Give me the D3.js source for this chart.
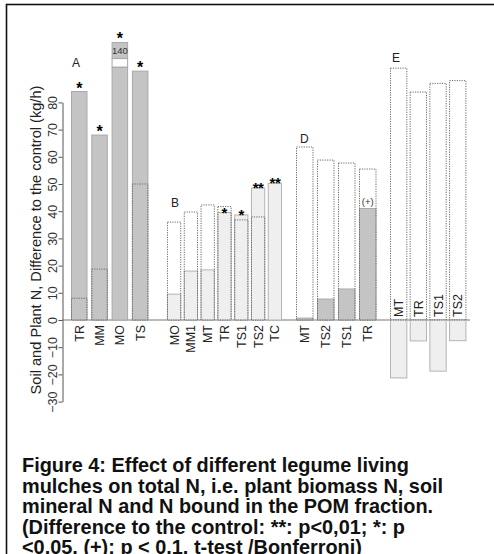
<!DOCTYPE html>
<html>
<head>
<meta charset="utf-8">
<script src="https://cdn.jsdelivr.net/npm/d3@7"></script>
<style>
  html, body { margin: 0; padding: 0; background: #fff; }
  svg { display: block; font-family: "Liberation Sans", Arial, Helvetica, sans-serif; }
</style>
</head>
<body>
<svg id="chart" width="494" height="554"></svg>
<script>
// Group A: total N (solid bar) with plant biomass N share (dotted line)
const catsA = ["TR", "MM", "MO", "TS"];
const solidA = [84, 68, 140, 91.5];
const dottedA = [8, 18.7, null, 50];
const sigA = ["*", "*", "*", "*"];

// Group B
const catsB = ["MO", "MM1", "MT", "TR", "TS1", "TS2", "TC"];
const solidB = [9.5, 18, 18.4, 39.5, 38.6, 48.5, 50.2];
const dottedB = [36, 39.7, 42.3, 41.7, 36.8, 37.9, null];
const sigB = ["", "", "", "*", "*", "**", "**"];

// Group D
const catsD = ["MT", "TS2", "TS1", "TR"];
const solidD = [0.7, 7.7, 11.4, 41];
const dottedD = [63.6, 58.8, 57.7, 55.5];
const sigD = ["", "", "", "(+)"];

// Group E
const catsE = ["MT", "TR", "TS1", "TS2"];
const solidE = [-21.3, -7.7, -18.8, -7.6];
const dottedE = [92.6, 83.8, 87, 88];
const sigE = ["", "", "", ""];

const yTicks = [-30, -20, -10, 0, 10, 20, 30, 40, 50, 60, 70, 80];
const yTitle = "Soil and Plant N, Difference to the control (kg/h)";
const captionLines = [
  "Figure 4: Effect of different legume living",
  "mulches on total N, i.e. plant biomass N, soil",
  "mineral N and N bound in the POM fraction.",
  "(Difference to the control: **: p<0,01; *: p",
  "<0,05, (+): p < 0.1, t-test /Bonferroni)"
];

// Values above this are drawn with a broken top and their value written in a box
const breakValue = 93;

const GRAY = "#c4c4c4", GRAY_EDGE = "#a9a9a9";
const LIGHT = "#efefef", LIGHT_EDGE = "#b4b4b4";
const DOT = "#6a6a6a";

const svg = d3.select("#chart");

// outer frame
svg.append("rect").attr("x", 6.5).attr("y", 4.5).attr("width", 500).attr("height", 560)
  .attr("fill", "#fff").attr("stroke", "#111").attr("stroke-width", 1.6);

const y = d3.scaleLinear().domain([-30, 80]).range([401.6, 102.4]);

const groups = [
  { name: "A", cats: catsA, solid: solidA, dotted: dottedA, sig: sigA, range: [69.1, 150.3], pad: 0.187,
    fill: GRAY, edge: GRAY_EDGE, labelPos: [72, 67], labelsInside: false, sigSize: 16, sigDy: 2 },
  { name: "B", cats: catsB, solid: solidB, dotted: dottedB, sig: sigB, range: [165.7, 283.3], pad: 0.15,
    fill: LIGHT, edge: LIGHT_EDGE, labelPos: [171, 207], labelsInside: false, sigSize: 15, sigDy: 5 },
  { name: "D", cats: catsD, solid: solidD, dotted: dottedD, sig: sigD, range: [294.25, 378.25], pad: 0.167,
    fill: GRAY, edge: GRAY_EDGE, labelPos: [300, 143], labelsInside: false, sigSize: 14, sigDy: 5 },
  { name: "E", cats: catsE, solid: solidE, dotted: dottedE, sig: sigE, range: [388.8, 467.6], pad: 0.12,
    fill: LIGHT, edge: LIGHT_EDGE, labelPos: [392, 62], labelsInside: true, sigSize: 14, sigDy: 5 }
];

// zero line
svg.append("line").attr("x1", 62.5).attr("x2", 470).attr("y1", y(0)).attr("y2", y(0))
  .attr("stroke", "#777").attr("stroke-width", 1);

groups.forEach(g => {
  const x = d3.scaleBand().domain(g.cats).range(g.range).paddingInner(g.pad).paddingOuter(g.pad / 2);
  const bw = x.bandwidth();
  const rows = g.cats.map((c, i) => ({ c, s: g.solid[i], d: g.dotted[i], sig: g.sig[i] }));
  const grp = svg.append("g");

  rows.forEach(r => {
    const x0 = x(r.c);
    const shown = Math.min(r.s, breakValue);
    // solid bar
    grp.append("rect")
      .attr("x", x0 + 0.5).attr("width", bw - 1)
      .attr("y", Math.min(y(shown), y(0)))
      .attr("height", Math.abs(y(shown) - y(0)))
      .attr("fill", g.fill).attr("stroke", g.edge).attr("stroke-width", 1);

    let topY = y(shown);
    if (r.s > breakValue) {
      // axis break: white gap, then a box carrying the value
      const gapTop = topY - 8.5;
      grp.append("rect").attr("x", x0 + 0.5).attr("width", bw - 1)
        .attr("y", gapTop).attr("height", 8.5)
        .attr("fill", "#fff").attr("stroke", g.edge);
      const boxTop = gapTop - 16;
      grp.append("rect").attr("x", x0 + 0.5).attr("width", bw - 1)
        .attr("y", boxTop).attr("height", 16)
        .attr("fill", g.fill).attr("stroke", g.edge);
      grp.append("text").attr("x", x0 + bw / 2).attr("y", boxTop + 11.5)
        .attr("text-anchor", "middle").attr("font-size", 9.5).attr("fill", "#333")
        .text(r.s);
      topY = boxTop - 1;
    }

    // dotted bar outline
    if (r.d !== null) {
      grp.append("rect")
        .attr("x", x0 + 0.5).attr("width", bw - 1)
        .attr("y", Math.min(y(r.d), y(0)))
        .attr("height", Math.abs(y(r.d) - y(0)))
        .attr("fill", "none").attr("stroke", DOT).attr("stroke-width", 1)
        .attr("stroke-dasharray", "1.2,1.2");
    }

    // significance mark above the solid bar
    if (r.sig) {
      const isParen = r.sig === "(+)";
      grp.append("text")
        .attr("x", x0 + bw / 2)
        .attr("y", isParen ? topY - 3 : topY + g.sigDy)
        .attr("text-anchor", "middle")
        .attr("font-size", isParen ? 9.5 : g.sigSize)
        .attr("font-weight", isParen ? "normal" : "bold")
        .attr("fill", isParen ? "#333" : "#000")
        .attr("letter-spacing", r.sig === "**" ? -0.5 : 0)
        .text(r.sig);
    }

    // category label
    const lx = x0 + bw / 2;
    const ly = g.labelsInside ? y(0) - 3 : y(0) + 5;
    grp.append("text")
      .attr("transform", `translate(${lx + 4.5},${ly}) rotate(-90)`)
      .attr("text-anchor", g.labelsInside ? "start" : "end")
      .attr("font-size", 12.5).attr("fill", "#222")
      .text(r.c);
  });

  svg.append("text").attr("x", g.labelPos[0]).attr("y", g.labelPos[1])
    .attr("font-size", 12).attr("fill", "#222").text(g.name);
});

// y axis
const yAxis = d3.axisLeft(y).tickValues(yTicks).tickSize(4).tickSizeOuter(0)
  .tickFormat(d => d < 0 ? "\u2212" + Math.abs(d) : d);
const ax = svg.append("g").attr("transform", "translate(62.5,0)").call(yAxis);
ax.select(".domain").attr("stroke", "#555");
ax.selectAll(".tick line").attr("stroke", "#555");
ax.selectAll(".tick text")
  .attr("font-size", 12.5).attr("fill", "#333")
  .attr("font-family", "Liberation Sans, Arial, sans-serif")
  .attr("x", null).attr("dy", null)
  .attr("text-anchor", "middle")
  .attr("transform", "translate(-5.5,0) rotate(-90)");

// y axis title
svg.append("text")
  .attr("transform", `translate(40.5,${240}) rotate(-90)`)
  .attr("text-anchor", "middle").attr("font-size", 14.6).attr("fill", "#222")
  .text(yTitle);

// caption
const cap = svg.append("text").attr("font-size", 19.9).attr("font-weight", "bold").attr("fill", "#111");
captionLines.forEach((t, i) => {
  cap.append("tspan").attr("x", 22).attr("y", 472 + i * 20.6).text(t);
});
</script>
</body>
</html>
